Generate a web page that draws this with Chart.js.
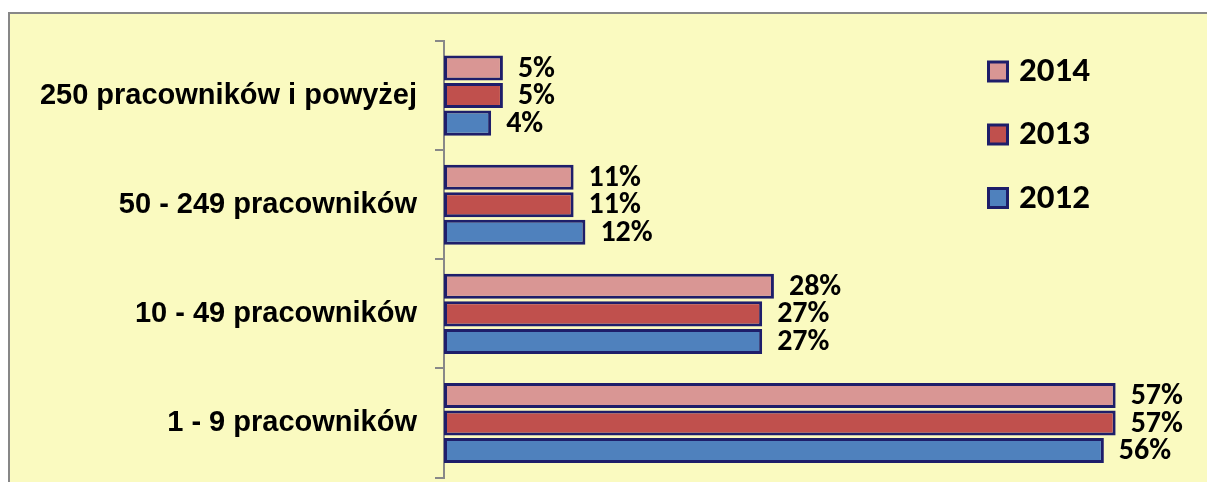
<!DOCTYPE html>
<html>
<head>
<meta charset="utf-8">
<script src="https://cdn.jsdelivr.net/npm/chart.js@4"></script>
<style>
  html, body { margin: 0; padding: 0; background: #fff; overflow: hidden; }
  .panel {
    position: absolute; left: 8px; top: 12px; width: 1220px; height: 490px;
    background: #fafac0; border-left: 2px solid #878787; border-top: 2px solid #878787;
  }
  /* taller than the window: the tick label padding eats space under the last bar */
  .chart-wrapper { position: absolute; left: 0; top: 0; width: 1207px; height: 513px; }
</style>
</head>
<body>
<div class="panel"></div>
<div class="chart-wrapper"><canvas id="chart"></canvas></div>
<script>
const categories = ['250 pracowników i powyżej', '50 - 249 pracowników', '10 - 49 pracowników', '1 - 9 pracowników'];
const years = ['2014', '2013', '2012'];
const values2014 = [5, 11, 28, 57];
const values2013 = [5, 11, 27, 57];
const values2012 = [4, 12, 27, 56];
const colors = ['#d99694', '#c0504d', '#4f81bd'];
const edge = '#1e1e6a';

// percent labels after each bar
const valueLabels = {
    id: 'valueLabels',
    afterDatasetsDraw(chart) {
        const ctx = chart.ctx;
        ctx.save();
        ctx.font = 'bold 30px Carlito, Lato, sans-serif';
        ctx.fillStyle = '#000';
        ctx.textAlign = 'left';
        ctx.textBaseline = 'middle';
        chart.data.datasets.forEach((ds, i) => {
            chart.getDatasetMeta(i).data.forEach((bar, j) => {
                ctx.fillText(ds.data[j] + '%', bar.x + 15, bar.y + 1);
            });
        });
        ctx.restore();
    }
};

// legend inside the plot, right side
const sideLegend = {
    id: 'sideLegend',
    afterDraw(chart) {
        const ctx = chart.ctx;
        const rows = [71.5, 134.5, 198];
        ctx.save();
        ctx.font = 'bold 35px Carlito, Lato, sans-serif';
        ctx.textBaseline = 'middle';
        chart.data.datasets.forEach((ds, i) => {
            const y = rows[i];
            ctx.fillStyle = edge;
            ctx.fillRect(987, y - 11, 22, 22);
            ctx.fillStyle = ds.backgroundColor;
            ctx.fillRect(990, y - 8, 16, 16);
            ctx.fillStyle = '#000';
            ctx.fillText(ds.label, 1019, y + 1);
        });
        ctx.restore();
    }
};

const ctx = document.getElementById('chart').getContext('2d');
const myChart = new Chart(ctx, {
    type: 'bar',
    data: {
        labels: categories,
        datasets: [
            { label: years[0], data: values2014, backgroundColor: colors[0] },
            { label: years[1], data: values2013, backgroundColor: colors[1] },
            { label: years[2], data: values2012, backgroundColor: colors[2] },
        ].map(d => Object.assign(d, {
            borderColor: edge,
            borderWidth: 3,
            borderSkipped: false,
            barPercentage: 0.91,
            categoryPercentage: 0.757,
        })),
    },
    options: {
        indexAxis: 'y',
        responsive: true,
        maintainAspectRatio: false,
        animation: false,
        layout: { padding: { left: 0, top: 41, right: 56, bottom: 5 } },
        plugins: {
            legend: { display: false },
            tooltip: { enabled: false },
        },
        scales: {
            x: { display: false, min: 0, max: 60 },
            y: {
                afterFit: function (scale) { scale.width = 444; },
                border: { display: true, color: '#888', width: 2 },
                grid: {
                    offset: true,
                    drawOnChartArea: false,
                    drawTicks: true,
                    tickLength: 9,
                    color: '#888',
                    lineWidth: 2,
                },
                ticks: {
                    padding: 18,
                    color: '#000',
                    font: { family: "'Liberation Sans', Arial, sans-serif", size: 29, weight: 'bold' },
                },
            },
        },
    },
    plugins: [valueLabels, sideLegend],
});
</script>
</body>
</html>
